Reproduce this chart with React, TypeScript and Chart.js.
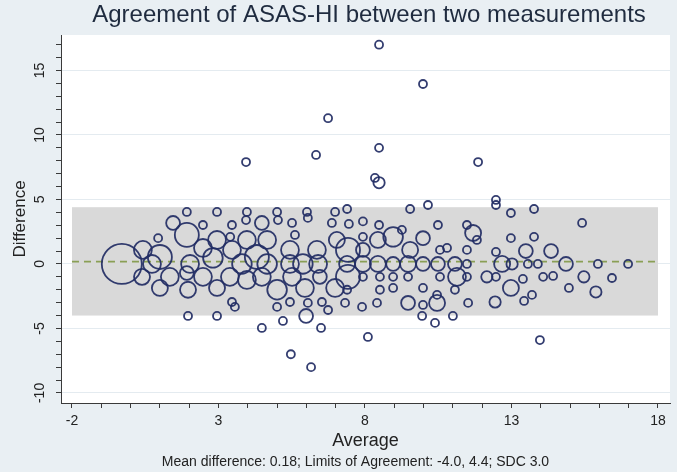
import React, { useEffect, useRef } from 'react';
import { Chart, registerables } from 'chart.js';

Chart.register(...registerables);

// ---- data ----
const avgValues = [
  8.48, 9.98, 6.74, 6.33, 8.48, 3.94, 11.86, 8.34, 8.48,
  9.54, 10.15, 12.47, 12.47, 12.98, 13.77, 15.41, 7.39,
  1.92, 2.95, 3.97, 3.94, 5.0, 5.03, 6.02, 6.05, 6.98,
  1.45, 2.47, 3.46, 4.48, 5.51, 6.87, 7.45, 7.93, 8.48, 10.49, 11.48,
  0.94, 1.92, 2.95, 3.4, 3.97, 4.66, 5.61, 7.04, 7.93, 8.44, 8.96, 9.26, 9.98, 11.69, 11.82, 12.98, 13.77,
  0.42, 2.47, 3.46, 5.44, 6.36, 7.42, 7.93, 9.54, 10.56, 10.8, 11.48, 12.47, 13.49, 14.35, 1.0,
  -0.3, 0.73, 2.03, 2.81, 3.8, 4.31, 4.66, 5.44, 5.88, 6.4, 7.39, 7.93, 8.44, 8.96, 9.47, 9.98, 10.49, 11.07, 11.48, 12.68, 13.02, 13.56, 13.9, 14.86, 15.95, 16.98,
  0.39, 1.34, 1.92, 2.47, 3.39, 3.97, 4.48, 5.51, 6.46, 7.42, 7.93, 8.51, 8.96, 9.47, 10.56, 11.14, 11.48, 12.16, 12.47, 13.39, 14.08, 14.42, 15.47, 16.43,
  1.0, 1.96, 2.95, 5.0, 5.95, 6.98, 7.39, 8.51, 8.96, 9.98, 11.07, 10.46, 12.98, 14.96, 15.88, 13.7, 13.43,
  3.46, 3.56, 5.0, 5.44, 6.05, 6.53, 6.74, 7.32, 7.9, 8.41, 9.47, 9.98, 10.46, 11.52, 12.44,
  1.96, 2.95, 5.99, 9.95, 10.39, 11.0, 5.2, 4.48, 6.5,
  8.1, 13.97, 5.47, 6.16,
];
const diffValues = [
  17.0, 13.95, 11.3, 8.45, 9.0, 7.9, 7.9, 6.67, 6.3,
  4.26, 4.57, 4.96, 4.57, 3.95, 4.26, 3.18, 4.26,
  4.03, 4.03, 4.03, 3.4, 4.03, 3.4, 4.03, 3.57, 4.03,
  3.18, 3.02, 3.02, 3.18, 3.18, 3.18, 3.1, 3.3, 3.02, 3.02, 3.02,
  2.0, 2.25, 1.86, 2.1, 1.86, 1.86, 2.25, 1.86, 2.1, 1.86, 2.1, 2.64, 2.0, 2.4, 1.86, 2.0, 2.1,
  1.09, 1.24, 1.09, 1.09, 1.09, 1.09, 1.09, 1.09, 1.09, 1.24, 1.09, 0.93, 1.0, 1.0, 0.54,
  0, 0, 0, 0.47, 0, 0.54, 0, 0, 0, 0, 0, 0, 0, 0, 0, 0, 0, 0, 0, 0, 0, 0, 0, 0, 0, 0,
  -1.0, -1.0, -0.7, -1.0, -1.0, -1.24, -1.0, -1.0, -1.0, -1.0, -1.0, -1.0, -1.0, -1.0, -1.0, -1.0, -1.0, -1.0, -1.0, -1.16, -1.0, -0.93, -1.0, -1.09,
  -1.86, -2.0, -1.86, -2.0, -1.86, -1.86, -2.0, -2.0, -1.86, -1.86, -2.0, -2.4, -1.86, -1.86, -2.17, -2.4, -2.87,
  -2.95, -3.33, -3.33, -2.95, -3.02, -2.95, -3.57, -3.02, -3.33, -3.02, -3.02, -3.18, -3.02, -3.02, -2.95,
  -4.03, -4.03, -4.03, -4.03, -4.57, -4.03, -4.42, -4.96, -4.96,
  -5.66, -5.9, -7.0, -8.0,
];
const weights = [
  1, 1, 1, 1, 1, 1, 1, 1, 2,
  1, 1, 1, 1, 1, 1, 1, 1,
  1, 1, 1, 1, 1, 1, 1, 1, 1,
  3, 1, 1, 3, 1, 1, 1, 1, 1, 1, 1,
  1, 9, 5, 1, 5, 5, 1, 4, 1, 4, 6, 1, 3, 4, 1, 1, 1,
  5, 5, 5, 5, 5, 9, 3, 4, 1, 1, 1, 1, 3, 3, 9,
  25, 5, 5, 6, 6, 9, 6, 5, 6, 5, 4, 4, 4, 3, 4, 3, 3, 3, 1, 4, 2, 1, 1, 3, 1, 1,
  4, 5, 3, 5, 5, 5, 5, 5, 3, 9, 1, 1, 1, 1, 1, 5, 1, 2, 1, 1, 1, 1, 2, 1,
  4, 4, 4, 6, 5, 5, 1, 1, 1, 1, 1, 1, 4, 1, 2, 1, 1,
  1, 1, 1, 1, 1, 1, 1, 1, 1, 1, 3, 1, 4, 1, 2,
  1, 1, 3, 1, 1, 1, 1, 1, 1,
  1, 1, 1, 1,
];

const meanDifference = 0.18;
const limitsOfAgreement = [-4.0, 4.4];
const bandRange = [-2, 18];
const xTickLabels = [-2, 3, 8, 13, 18];
const yTickLabels = [-10, -5, 0, 5, 10, 15];
const xRange = [-2.375, 18.41];
const yRange = [-10.78, 17.75];

const titleText = 'Agreement of ASAS-HI between two measurements';
const xTitle = 'Average';
const yTitle = 'Difference';
const footerText = 'Mean difference: 0.18; Limits of Agreement: -4.0, 4.4; SDC 3.0';

const FONT = '"Liberation Sans", Arial, Helvetica, sans-serif';
const BG = '#e9eff3';
const GRID = '#e4ebf0';
const AXIS = '#3a3a3a';
const MARKER = 'rgba(34,44,100,0.92)';
const BAND = '#d9d9d9';
const MEANLINE = '#8a9f55';

function isLabel(v: number, list: number[]) {
  const r = Math.round(v);
  return Math.abs(v - r) < 1e-6 && list.includes(r);
}

export default function App() {
  const ref = useRef<HTMLCanvasElement>(null);

  useEffect(() => {
    document.body.style.margin = '0';
    const canvas = ref.current!;

    const bgPlugin = {
      id: 'bgPlugin',
      beforeDraw(chart: any) {
        const { ctx, chartArea: a } = chart;
        ctx.save();
        ctx.fillStyle = BG;
        ctx.fillRect(0, 0, chart.width, chart.height);
        ctx.fillStyle = '#ffffff';
        ctx.fillRect(a.left, a.top, a.right - a.left, a.bottom - a.top);
        ctx.restore();
      },
    };

    const bandPlugin = {
      id: 'bandPlugin',
      beforeDatasetsDraw(chart: any) {
        const { ctx } = chart;
        const xs = chart.scales.x;
        const ys = chart.scales.y;
        const x0 = xs.getPixelForValue(bandRange[0]);
        const x1 = xs.getPixelForValue(bandRange[1]);
        const yTop = ys.getPixelForValue(limitsOfAgreement[1]);
        const yBot = ys.getPixelForValue(limitsOfAgreement[0]);
        ctx.save();
        ctx.fillStyle = BAND;
        ctx.fillRect(x0, yTop, x1 - x0, yBot - yTop);
        const ym = ys.getPixelForValue(meanDifference);
        ctx.strokeStyle = MEANLINE;
        ctx.lineWidth = 1.6;
        ctx.setLineDash([7, 5]);
        ctx.beginPath();
        ctx.moveTo(x0, ym);
        ctx.lineTo(x1, ym);
        ctx.stroke();
        ctx.restore();
      },
    };

    const textPlugin = {
      id: 'textPlugin',
      afterDraw(chart: any) {
        const { ctx, chartArea: a } = chart;
        const cx = (a.left + a.right) / 2;
        ctx.save();
        ctx.textAlign = 'center';
        ctx.textBaseline = 'middle';
        ctx.fillStyle = '#1f2b3f';
        ctx.font = `24px ${FONT}`;
        ctx.fillText(titleText, 369, 15);
        ctx.fillStyle = '#222222';
        ctx.font = `18px ${FONT}`;
        ctx.fillText(xTitle, cx, 441);
        ctx.font = `14px ${FONT}`;
        ctx.fillText(footerText, cx - 10, 462);
        ctx.translate(20, (a.top + a.bottom) / 2);
        ctx.rotate(-Math.PI / 2);
        ctx.font = `17px ${FONT}`;
        ctx.fillText(yTitle, 0, 0);
        ctx.restore();
      },
    };

    const chart = new Chart(canvas, {
      type: 'scatter',
      data: {
        datasets: [
          {
            data: avgValues.map((v, i) => ({ x: v, y: diffValues[i] })),
            pointRadius: (c: any) => 4 * Math.sqrt(weights[c.dataIndex] || 1),
            pointHoverRadius: (c: any) => 4 * Math.sqrt(weights[c.dataIndex] || 1),
            pointBorderColor: MARKER,
            pointBackgroundColor: 'rgba(0,0,0,0)',
            pointBorderWidth: 1.8,
            pointHoverBorderWidth: 1.8,
          },
        ],
      },
      options: {
        responsive: false,
        animation: false,
        devicePixelRatio: 1,
        layout: { autoPadding: false, padding: { top: 35, right: 7, bottom: 0, left: 0 } },
        plugins: {
          legend: { display: false },
          tooltip: { enabled: false },
          title: { display: false },
        },
        scales: {
          x: {
            type: 'linear',
            min: xRange[0],
            max: xRange[1],
            afterFit: (s: any) => {
              s.height = 69;
              s.paddingLeft = 0;
              s.paddingRight = 0;
            },
            ticks: {
              stepSize: 1,
              includeBounds: false,
              autoSkip: false,
              maxRotation: 0,
              minRotation: 0,
              padding: 5,
              color: '#222222',
              font: { family: FONT, size: 14 },
              callback: (v: any) => (isLabel(Number(v), xTickLabels) ? String(Math.round(Number(v))) : ''),
            },
            grid: {
              drawOnChartArea: false,
              color: 'rgba(0,0,0,0)',
              tickColor: AXIS,
              tickLength: 5,
            },
            border: { display: true, color: AXIS, width: 1 },
          },
          y: {
            type: 'linear',
            min: yRange[0],
            max: yRange[1],
            afterFit: (s: any) => {
              s.width = 61;
              s.paddingTop = 0;
              s.paddingBottom = 0;
            },
            ticks: {
              stepSize: 1,
              includeBounds: false,
              autoSkip: false,
              minRotation: 90,
              maxRotation: 90,
              crossAlign: 'center',
              padding: 6,
              color: '#222222',
              font: { family: FONT, size: 14 },
              callback: (v: any) => (isLabel(Number(v), yTickLabels) ? String(Math.round(Number(v))) : ''),
            },
            grid: {
              drawOnChartArea: true,
              color: (c: any) => (c.tick && isLabel(c.tick.value, yTickLabels) ? GRID : 'rgba(0,0,0,0)'),
              tickColor: AXIS,
              tickLength: 5,
              lineWidth: 1,
            },
            border: { display: true, color: AXIS, width: 1 },
          },
        },
      },
      plugins: [bgPlugin, bandPlugin, textPlugin],
    } as any);

    return () => chart.destroy();
  }, []);

  return (
    <div style={{ width: 677, height: 472 }}>
      <canvas ref={ref} width={677} height={472} style={{ display: 'block' }} />
    </div>
  );
}
